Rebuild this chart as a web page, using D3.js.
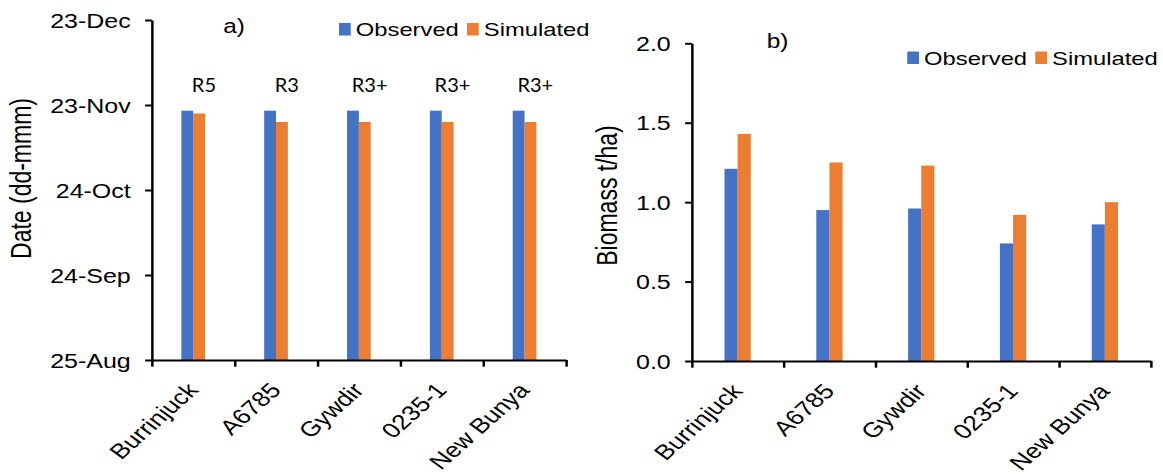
<!DOCTYPE html>
<html><head><meta charset="utf-8">
<script src="https://cdn.jsdelivr.net/npm/d3@7"></script>
<style>body{margin:0;background:#fff}svg{display:block}</style>
</head><body>
<svg id="c" width="1163" height="474"></svg>
<script>
const categories = ["Burrinjuck", "A6785", "Gywdir", "0235-1", "New Bunya"];
const stageLabels = ["R5", "R3", "R3+", "R3+", "R3+"];
const seriesNames = ["Observed", "Simulated"];
const observedDate = ["2019-11-21", "2019-11-21", "2019-11-21", "2019-11-21", "2019-11-21"];
const simulatedDate = ["2019-11-20", "2019-11-17", "2019-11-17", "2019-11-17", "2019-11-17"];
const observedBiomass = [1.21, 0.95, 0.96, 0.74, 0.86];
const simulatedBiomass = [1.43, 1.25, 1.23, 0.92, 1.00];
const dateTicks = ["2019-08-25", "2019-09-24", "2019-10-24", "2019-11-23", "2019-12-23"];
const biomassTicks = [0, 0.5, 1.0, 1.5, 2.0];
const colors = ["#4472C4", "#ED7D31"];

const SX = 1.25; // horizontal stretch of the original picture
const W = 1163 / SX, H = 474;
const svg = d3.select("#c").attr("viewBox", `0 0 ${W} ${H}`).attr("preserveAspectRatio", "none");
const FONT = "'Liberation Sans', Arial, sans-serif";
const parse = d3.timeParse("%Y-%m-%d");

function styleAxis(g, fs) {
  g.selectAll("path.domain").attr("stroke", "#000").attr("stroke-width", 2);
  g.selectAll(".tick line").attr("stroke", "#000").attr("stroke-width", 2);
  g.selectAll("text").attr("font-family", FONT).attr("font-size", fs).attr("fill", "#000");
}

function panel(opt) {
  const g = svg.append("g");
  const x = d3.scaleBand().domain(categories).range(opt.xr);
  const bw = x.bandwidth() * 0.143;
  const y = opt.y;
  const base = opt.y.range()[0];
  const series = [opt.obs, opt.sim];
  series.forEach((vals, si) => {
    g.append("g").selectAll("rect").data(vals).join("rect")
      .attr("x", (d, i) => x(categories[i]) + x.bandwidth() / 2 + (si === 0 ? -bw : 0))
      .attr("width", bw)
      .attr("y", d => y(d))
      .attr("height", d => base - y(d))
      .attr("fill", colors[si]);
  });
  const ya = g.append("g").attr("transform", `translate(${opt.xr[0]},0)`)
    .call(d3.axisLeft(y).tickValues(opt.ticks).tickFormat(opt.fmt).tickSize(5.3).tickSizeOuter(0).tickPadding(11.5));
  styleAxis(ya, 20);
  ya.selectAll("text").attr("dy", "0.35em");
  const idx = d3.scaleLinear().domain([0, categories.length]).range(opt.xr);
  const xa = g.append("g").attr("transform", `translate(0,${base})`)
    .call(d3.axisBottom(idx).tickValues(d3.range(categories.length + 1)).tickFormat("").tickSize(6.7).tickSizeOuter(0));
  styleAxis(xa, 20);
  g.append("g").selectAll("text").data(categories).join("text")
    .attr("transform", d => `translate(${x(d) + x.bandwidth() / 2 + 5},${base + 31}) rotate(-48)`)
    .attr("text-anchor", "end")
    .attr("font-family", FONT).attr("font-size", 21).attr("fill", "#000")
    .text(d => d);
  g.append("text")
    .attr("transform", `translate(${opt.titleX},${opt.titleY}) rotate(-90)`)
    .attr("text-anchor", "middle")
    .attr("font-family", FONT).attr("font-size", 23).attr("fill", "#000")
    .text(opt.title);
  g.append("text").attr("x", opt.letterX).attr("y", opt.letterY)
    .attr("font-family", FONT).attr("font-size", 19.5).attr("fill", "#000").text(opt.letter);
  const lg = g.append("g");
  seriesNames.forEach((s, i) => {
    lg.append("rect").attr("x", opt.legX[i]).attr("y", opt.legY - 13.5).attr("width", 9.4).attr("height", 12.5).attr("fill", colors[i]);
    lg.append("text").attr("x", opt.legX[i] + 13.5).attr("y", opt.legY)
      .attr("font-family", FONT).attr("font-size", 19).attr("fill", "#000").text(s);
  });
  return { g, x };
}

const left = panel({
  xr: [121.4, 452.8],
  y: d3.scaleTime().domain([parse(dateTicks[0]), parse(dateTicks[dateTicks.length - 1])]).range([360, 20]),
  ticks: dateTicks.map(parse),
  fmt: d3.timeFormat("%d-%b"),
  obs: observedDate.map(parse),
  sim: simulatedDate.map(parse),
  title: "Date (dd-mmm)", titleX: 24.6, titleY: 178.5,
  letter: "a)", letterX: 178.6, letterY: 33,
  legX: [271.2, 373.6], legY: 36.5
});

const right = panel({
  xr: [553.4, 920.6],
  y: d3.scaleLinear().domain([0, 2]).range([361, 43.3]),
  ticks: biomassTicks,
  fmt: d3.format(".1f"),
  obs: observedBiomass,
  sim: simulatedBiomass,
  title: "Biomass t/ha)", titleX: 493.4, titleY: 195.5,
  letter: "b)", letterX: 613.4, letterY: 48,
  legX: [725.8, 828.2], legY: 65
});

left.g.append("g").selectAll("text").data(stageLabels).join("text")
  .attr("transform", (d, i) => `translate(${left.x(categories[i]) + left.x.bandwidth() / 2 + 8.6},91.5) scale(${1 / SX},1)`)
  .attr("text-anchor", "middle")
  .attr("font-family", "Lato, 'Open Sans', sans-serif").attr("font-size", 20).attr("fill", "#000")
  .text(d => d);
</script>
</body></html>
